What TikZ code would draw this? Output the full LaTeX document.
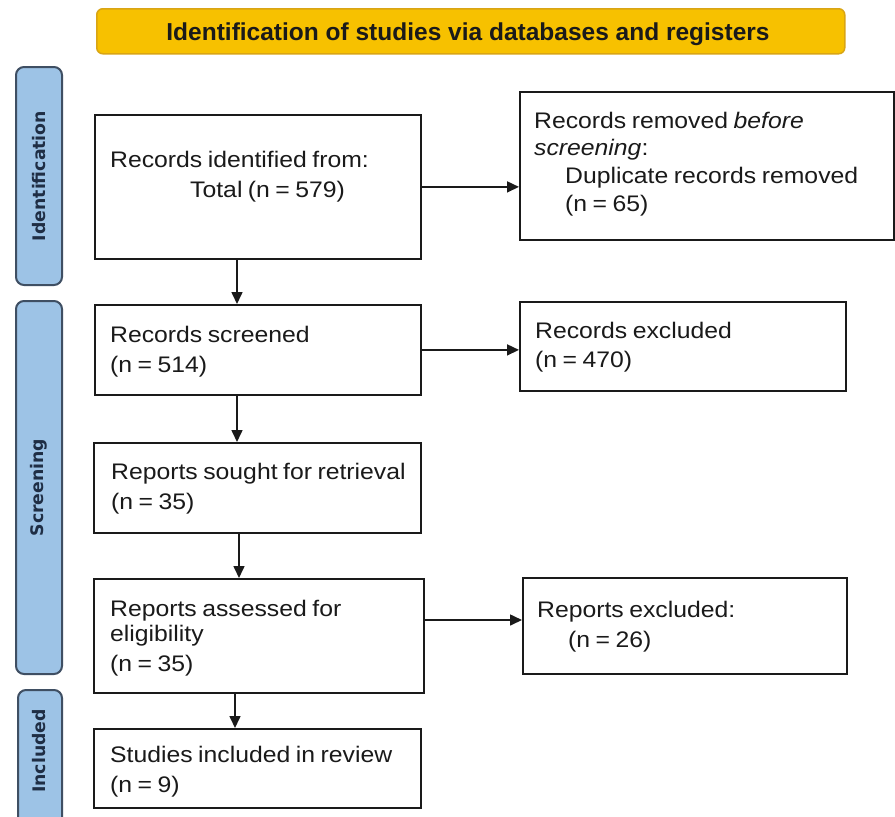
\documentclass[tikz,border=0pt]{standalone}
\usepackage{fontspec}
\setmainfont[FakeStretch=1.1,WordSpace=0.8]{Liberation Sans}
\newfontfamily\tabfont{DejaVu Sans}
\newfontfamily\bannerfont{Liberation Sans}
\usetikzlibrary{arrows.meta}
\definecolor{bannerfill}{HTML}{F7C100}
\definecolor{bannerdraw}{HTML}{D9A514}
\definecolor{tabfill}{HTML}{9DC3E6}
\definecolor{tabdraw}{HTML}{3F4F63}
\definecolor{tabtext}{HTML}{1F2E45}
\definecolor{ink}{HTML}{1A1A1A}
\begin{document}
\begin{tikzpicture}[x=1pt,y=-1pt,
  box/.style={draw=ink, line width=1.8pt, rectangle, inner sep=0pt, anchor=north west},
  txt/.style={anchor=base west, inner sep=0pt, font=\fontsize{22.5}{27}\selectfont, text=ink},
  arr/.style={draw=ink, line width=1.6pt, -{Triangle[length=12pt,width=11pt]}},
  tab/.style={draw=tabdraw, fill=tabfill, line width=2pt, rounded corners=8pt, anchor=north west, inner sep=0pt},
  tabtxt/.style={rotate=90, inner sep=0pt, font=\tabfont\bfseries\fontsize{17.3}{20}\selectfont, text=tabtext},
  banner/.style={draw=bannerdraw, fill=bannerfill, line width=1.5pt, rounded corners=6pt, anchor=north west, inner sep=0pt}
]
\useasboundingbox (0,0) rectangle (895,817);
\clip (0,0) rectangle (895,817);
\fill[white] (0,0) rectangle (895,817);

% banner
\node[banner, minimum width=748pt, minimum height=45pt] (ban) at (96,8) {};
\node[anchor=base, inner sep=0pt, font=\bannerfont\bfseries\fontsize{24.5}{28}\selectfont, text=ink] (bantxt) at (468,40) {Identification of studies via databases and registers};

% side tabs
\node[tab, minimum width=46pt, minimum height=218pt] (tabid) at (15,66) {};
\node[tabtxt] (tabidt) at (tabid.center) {Identification};
\node[tab, minimum width=46pt, minimum height=373pt] (tabscr) at (15,300) {};
\node[tabtxt] (tabscrt) at (tabscr.center) {Screening};
\node[tab, minimum width=44pt, minimum height=150pt] (tabinc) at (17,689) {};
\node[tabtxt] (tabinct) at (39,751) {Included};

% boxes
\node[box, minimum width=326pt, minimum height=144pt] (ident) at (94,114) {};
\node[box, minimum width=374pt, minimum height=148pt] (removed) at (519,91) {};
\node[box, minimum width=326pt, minimum height=90pt] (screened) at (94,304) {};
\node[box, minimum width=326pt, minimum height=89pt] (rexcl) at (519,301) {};
\node[box, minimum width=327pt, minimum height=90pt] (sought) at (93,442) {};
\node[box, minimum width=330pt, minimum height=114pt] (assessed) at (93,578) {};
\node[box, minimum width=324pt, minimum height=96pt] (repexcl) at (522,577) {};
\node[box, minimum width=327pt, minimum height=79pt] (studies) at (93,728) {};

% texts
\node[txt] (t1a) at (110,167) {Records identified from:};
\node[txt] (t1b) at (190,197) {Total (n = 579)};
\node[txt] (t2a) at (534,128) {Records removed \textit{before}};
\node[txt] (t2b) at (534,155) {\textit{screening}:};
\node[txt] (t2c) at (565,183) {Duplicate records removed};
\node[txt] (t2d) at (565,211) {(n = 65)};
\node[txt] (t3a) at (110,342) {Records screened};
\node[txt] (t3b) at (110,372) {(n = 514)};
\node[txt] (t4a) at (535,338) {Records excluded};
\node[txt] (t4b) at (535,367) {(n = 470)};
\node[txt] (t5a) at (111,479) {Reports sought for retrieval};
\node[txt] (t5b) at (111,509) {(n = 35)};
\node[txt] (t6a) at (110,616) {Reports assessed for};
\node[txt] (t6b) at (110,641) {eligibility};
\node[txt] (t6c) at (110,671) {(n = 35)};
\node[txt] (t7a) at (537,617) {Reports excluded:};
\node[txt] (t7b) at (568,647) {(n = 26)};
\node[txt] (t8a) at (110,762) {Studies included in review};
\node[txt] (t8b) at (110,792) {(n = 9)};

% connectors
\coordinate (cx1) at (237,0);
\coordinate (cx2) at (239,0);
\coordinate (cx3) at (235,0);
\coordinate (cy3) at (0,620);
\draw[arr] (cx1 |- ident.south) -- (cx1 |- screened.north);
\draw[arr] (cx1 |- screened.south) -- (cx1 |- sought.north);
\draw[arr] (cx2 |- sought.south) -- (cx2 |- assessed.north);
\draw[arr] (cx3 |- assessed.south) -- (cx3 |- studies.north);
\draw[arr] (ident.east) -- (ident.east -| removed.west);
\draw[arr] (screened.east) -- (screened.east -| rexcl.west);
\draw[arr] (assessed.east |- cy3) -- (repexcl.west |- cy3);
\end{tikzpicture}
\end{document}
